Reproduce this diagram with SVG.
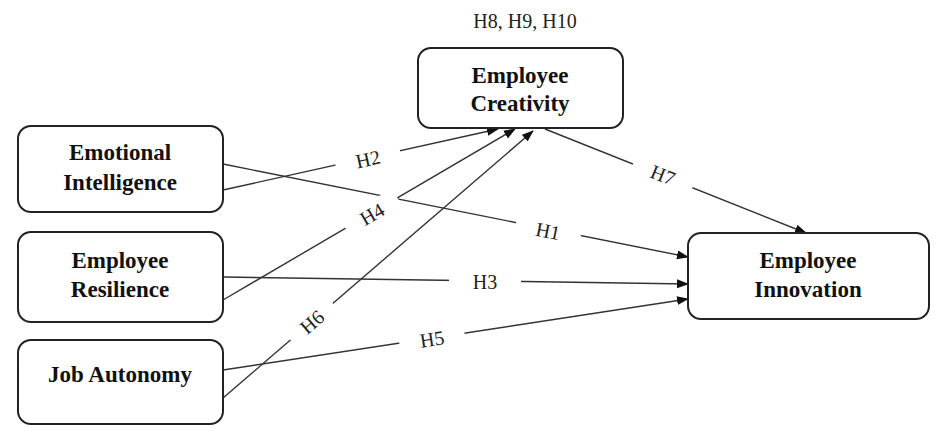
<svg xmlns="http://www.w3.org/2000/svg" width="935" height="435" viewBox="0 0 935 435">
<style>
.box{fill:#fff;stroke:#222;stroke-width:2}
.nt{font-family:"Liberation Serif",serif;font-weight:bold;font-size:23px;fill:#111;text-anchor:middle}
.lb{font-family:"Liberation Serif",serif;font-size:20px;fill:#222;text-anchor:middle}
.ln{stroke:#333;stroke-width:1.4;fill:none;marker-end:url(#ah)}
.bg{fill:#fff}
</style>
<defs>
<marker id="ah" markerUnits="userSpaceOnUse" markerWidth="12" markerHeight="10" refX="11" refY="4.5" orient="auto">
<path d="M0,0 L12,4.5 L0,9 z" fill="#111"/>
</marker>
</defs>
<rect width="935" height="435" fill="#fff"/>
<g id="connectors">
<line class="ln" x1="223" y1="164" x2="688" y2="257"/>
<line class="ln" x1="223" y1="190" x2="498" y2="129"/>
<line class="ln" x1="223" y1="277" x2="688" y2="284"/>
<line class="ln" x1="223" y1="300" x2="515" y2="129"/>
<line class="ln" x1="223" y1="370" x2="688" y2="299"/>
<line class="ln" x1="223" y1="398" x2="533" y2="131"/>
<line class="ln" x1="545" y1="129" x2="806" y2="233"/>
<g transform="translate(548,231) rotate(11.3)"><rect class="bg" x="-33" y="-12" width="66" height="24"/><text class="lb" y="7">H1</text></g>
<g transform="translate(368,159) rotate(-12.4)"><rect class="bg" x="-33" y="-12" width="66" height="24"/><text class="lb" y="7">H2</text></g>
<g transform="translate(485,282)"><rect class="bg" x="-36" y="-12" width="72" height="24"/><text class="lb" y="7">H3</text></g>
<g transform="translate(372,214) rotate(-30.2)"><rect class="bg" x="-30" y="-12" width="60" height="24"/><text class="lb" y="7">H4</text></g>
<g transform="translate(432,339) rotate(-8.6)"><rect class="bg" x="-33" y="-12" width="66" height="24"/><text class="lb" y="7">H5</text></g>
<g transform="translate(312,322) rotate(-40.6)"><rect class="bg" x="-28" y="-12" width="56" height="24"/><text class="lb" y="7">H6</text></g>
<g transform="translate(663,175) rotate(21.8)"><rect class="bg" x="-32" y="-12" width="64" height="24"/><text class="lb" y="7">H7</text></g>
</g>
<text class="lb" x="525" y="28">H8, H9, H10</text>
<g id="creativity">
<rect class="box" x="418" y="48" width="205" height="80" rx="13"/>
<text class="nt" x="520" y="83">Employee</text>
<text class="nt" x="520" y="111">Creativity</text>
</g>
<g id="emotional">
<rect class="box" x="18" y="126" width="205" height="86" rx="13"/>
<text class="nt" x="120" y="160">Emotional</text>
<text class="nt" x="120" y="190">Intelligence</text>
</g>
<g id="resilience">
<rect class="box" x="18" y="232" width="205" height="90" rx="13"/>
<text class="nt" x="120" y="268">Employee</text>
<text class="nt" x="120" y="297">Resilience</text>
</g>
<g id="autonomy">
<rect class="box" x="18" y="340" width="205" height="84" rx="13"/>
<text class="nt" x="120" y="382">Job Autonomy</text>
</g>
<g id="innovation">
<rect class="box" x="688" y="233" width="241" height="86" rx="13"/>
<text class="nt" x="808" y="268">Employee</text>
<text class="nt" x="808" y="297">Innovation</text>
</g>
</svg>
